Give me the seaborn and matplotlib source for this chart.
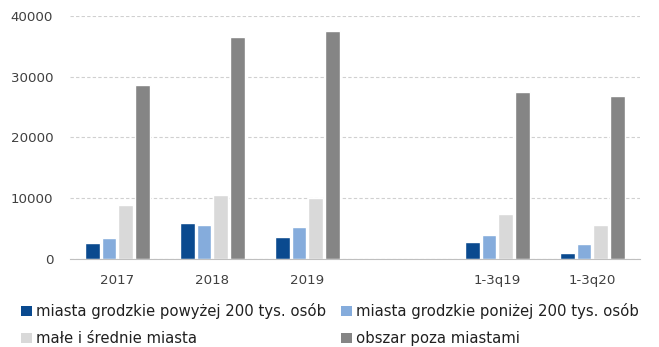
import matplotlib
matplotlib.use("Agg")
import matplotlib.pyplot as plt
import seaborn as sns
import pandas as pd
from matplotlib.patches import Patch

# Periods shown on the x axis ("" keeps an empty slot between years and quarters)
periods = ["2017", "2018", "2019", "1-3q19", "1-3q20"]
axis_order = ["2017", "2018", "2019", "", "1-3q19", "1-3q20"]

series_names = [
    "miasta grodzkie powyżej 200 tys. osób",
    "miasta grodzkie poniżej 200 tys. osób",
    "małe i średnie miasta",
    "obszar poza miastami",
]
big_cities = [2580, 5970, 3570, 2800, 1040]
small_cities = [3400, 5590, 5310, 4000, 2420]
towns = [8930, 10530, 9980, 7350, 5590]
rural = [28620, 36560, 37500, 27470, 26860]

colors = ["#0a4a8f", "#85acdc", "#d9d9d9", "#858585"]

rows = []
for name, vals in zip(series_names, [big_cities, small_cities, towns, rural]):
    for p, v in zip(periods, vals):
        rows.append({"okres": p, "seria": name, "wartosc": v})
df = pd.DataFrame(rows)

sns.set_theme(style="white")
plt.rcParams["font.family"] = ["DejaVu Sans"]

fig = plt.figure(figsize=(6.59, 3.47), dpi=100)
ax = fig.add_axes([0.106, 0.254, 0.865, 0.700])

sns.barplot(
    data=df, x="okres", y="wartosc", hue="seria",
    order=axis_order, hue_order=series_names, palette=colors,
    width=0.7, gap=0.12, saturation=1, errorbar=None, legend=False, ax=ax,
)

ax.set_ylim(0, 40000)
ax.set_yticks([0, 10000, 20000, 30000, 40000])
ax.set_yticklabels(["0", "10000", "20000", "30000", "40000"])
ax.yaxis.grid(True, color="#d0d0d0", linestyle=(0, (3, 2)), linewidth=0.8)
ax.set_axisbelow(True)
ax.set_xlabel("")
ax.set_ylabel("")
for side in ["top", "right", "left"]:
    ax.spines[side].set_visible(False)
ax.spines["bottom"].set_color("#bfbfbf")
ax.spines["bottom"].set_linewidth(0.8)
ax.tick_params(axis="both", length=0, labelsize=9.6, labelcolor="#404040")
ax.tick_params(axis="x", pad=11)
ax.tick_params(axis="y", pad=12)

# legend filled row by row: two entries per line
handles = [Patch(facecolor=c, edgecolor="none") for c in colors]
leg_order = [0, 2, 1, 3]
fig.legend(
    [handles[i] for i in leg_order], [series_names[i] for i in leg_order],
    loc="lower left", bbox_to_anchor=(0.012, -0.036),
    ncol=2, frameon=False, fontsize=10.7, handlelength=0.7, handleheight=0.7,
    handletextpad=0.3, columnspacing=1.0, labelspacing=0.8,
    labelcolor="#202020",
)

fig.savefig("out.png", dpi=100)
